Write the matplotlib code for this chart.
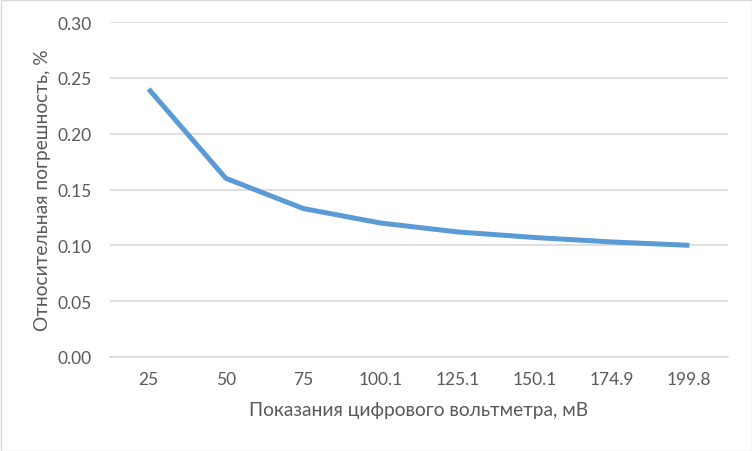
import numpy as np
import matplotlib
matplotlib.use('Agg')
import matplotlib.pyplot as plt
from matplotlib.patches import Rectangle

categories = ['25', '50', '75', '100.1', '125.1', '150.1', '174.9', '199.8']
rel_error = [0.240, 0.160, 0.133, 0.120, 0.112, 0.107, 0.103, 0.100]
y_ticks = [0.00, 0.05, 0.10, 0.15, 0.20, 0.25, 0.30]

plt.rcParams['font.family'] = ['Lato', 'DejaVu Sans']

fig = plt.figure(figsize=(7.52, 4.52), dpi=100)
ax = fig.add_axes([110/752, 1 - 358/452, 618/752, 335/452])

x = np.arange(len(categories))
ax.plot(x, rel_error, color='#5B9BD5', linewidth=3.6, solid_capstyle='butt',
        solid_joinstyle='round')

ax.set_xlim(-0.5, len(categories) - 0.5)
ax.set_ylim(0, 0.30)
ax.set_xticks(x)
ax.set_xticklabels(categories)
ax.set_yticks(y_ticks)
ax.set_yticklabels(['%.2f' % v for v in y_ticks])
ax.grid(axis='y', color='#D9D9D9', linewidth=1.2)
ax.set_axisbelow(True)
for side in ['left', 'right', 'top']:
    ax.spines[side].set_visible(False)
ax.spines['bottom'].set_color('#D9D9D9')
ax.spines['bottom'].set_linewidth(1.2)
ax.tick_params(axis='both', length=0, colors='#595959', labelsize=12.5)
ax.tick_params(axis='x', pad=10)
ax.tick_params(axis='y', pad=13)

ax.set_xlabel('Показания цифрового вольтметра, мВ', fontsize=13.8,
              color='#595959', labelpad=10)
ax.set_ylabel('Относительная погрешность, %', fontsize=13.8,
              color='#595959', labelpad=5)

fig.patches.append(Rectangle((0.5/752, 0.5/452), 1 - 1/752, 1 - 1/452,
                             transform=fig.transFigure, fill=False,
                             edgecolor='#D9D9D9', linewidth=1.0))

fig.savefig('out.png', dpi=100)
